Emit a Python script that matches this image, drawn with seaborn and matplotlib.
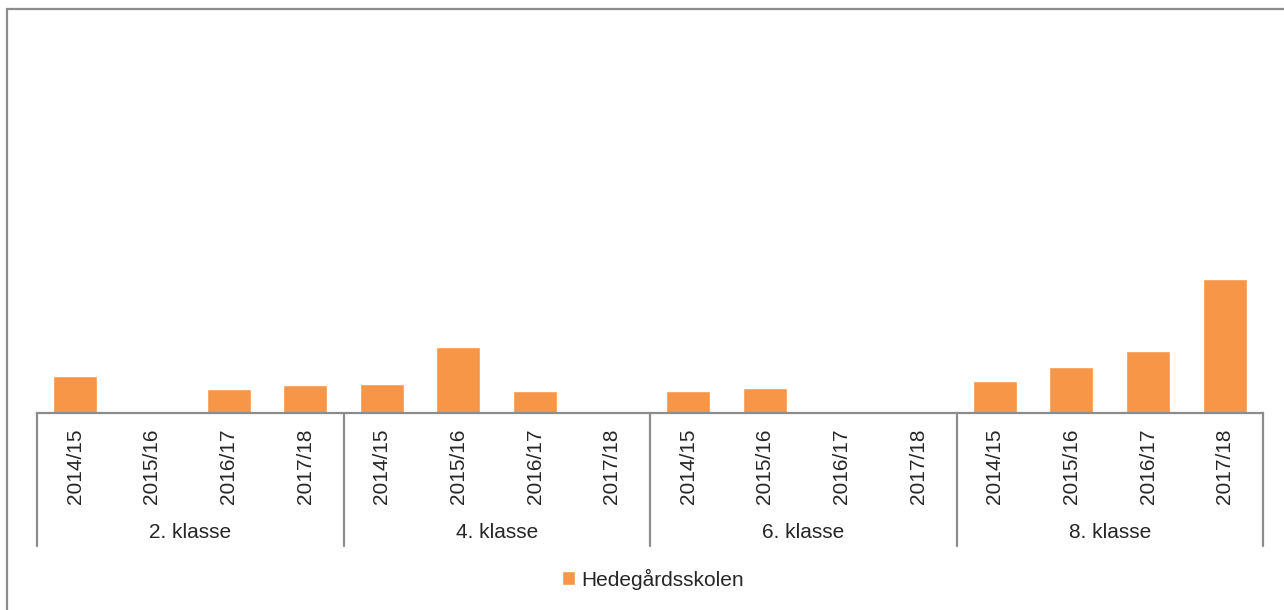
import matplotlib
matplotlib.use("Agg")
import matplotlib.pyplot as plt
import matplotlib.patches as mpatches
import matplotlib.transforms as mtransforms
import seaborn as sns
import pandas as pd

grades = ["2. klasse", "4. klasse", "6. klasse", "8. klasse"]
years = ["2014/15", "2015/16", "2016/17", "2017/18"]
school = "Hedegårdsskolen"
values_2 = [2.8, 0, 1.8, 2.1]
values_4 = [2.2, 5.0, 1.7, 0]
values_6 = [1.7, 1.9, 0, 0]
values_8 = [2.4, 3.5, 4.7, 10.1]

all_values = [values_2, values_4, values_6, values_8]
rows = []
for g, vals in zip(grades, all_values):
    for y, v in zip(years, vals):
        rows.append({"key": f"{g}|{y}", "grade": g, "year": y, "value": v, "school": school})
df = pd.DataFrame(rows)

sns.set_theme(style="white")
plt.rcParams["font.family"] = ["Liberation Sans", "DejaVu Sans"]

W, H = 1284, 610
fig = plt.figure(figsize=(W / 100, H / 100), dpi=100)
ax = fig.add_axes([37 / W, (H - 413) / H, (1263 - 37) / W, (413 - 20) / H])

orange = "#F79646"
sns.barplot(data=df, x="key", y="value", hue="school", palette=[orange],
            order=list(df["key"]), width=0.575, ax=ax, legend=True, saturation=1)

ax.set_ylim(0, 29.7)
ax.set_xlim(-0.5, len(df) - 0.5)
ax.set_xlabel("")
ax.set_ylabel("")
ax.set_yticks([])
ax.set_xticks(range(len(df)))
ax.set_xticklabels(df["year"], rotation=90, fontsize=15, color="#262626")
ax.tick_params(axis="x", length=0, pad=11)
for s in ["top", "right", "left"]:
    ax.spines[s].set_visible(False)
ax.spines["bottom"].set_color("#8c8c8c")
ax.spines["bottom"].set_linewidth(1.6)

trans = mtransforms.blended_transform_factory(ax.transData, ax.transAxes)
n = len(years)
for i in range(len(grades) + 1):
    xb = i * n - 0.5
    ax.plot([xb, xb], [0, -0.338], transform=trans, color="#8c8c8c", lw=1.6,
            clip_on=False)
for i, g in enumerate(grades):
    xc = i * n + (n - 1) / 2
    ax.text(xc, -0.305, g, transform=trans, ha="center", va="center",
            fontsize=15, color="#262626")

leg = ax.legend(loc="center", bbox_to_anchor=(653 / W, (H - 579) / H),
                bbox_transform=fig.transFigure, frameon=False, fontsize=15,
                handlelength=0.65, handleheight=0.65, handletextpad=0.3,
                labelcolor="#262626")

# outer frame
frame = mpatches.Rectangle((7 / W, -0.05), 1.2, (H - 9) / H + 0.05,
                           transform=fig.transFigure, fill=False,
                           edgecolor="#8c8c8c", lw=1.6)
fig.patches.append(frame)

fig.savefig("out.png", dpi=100)
